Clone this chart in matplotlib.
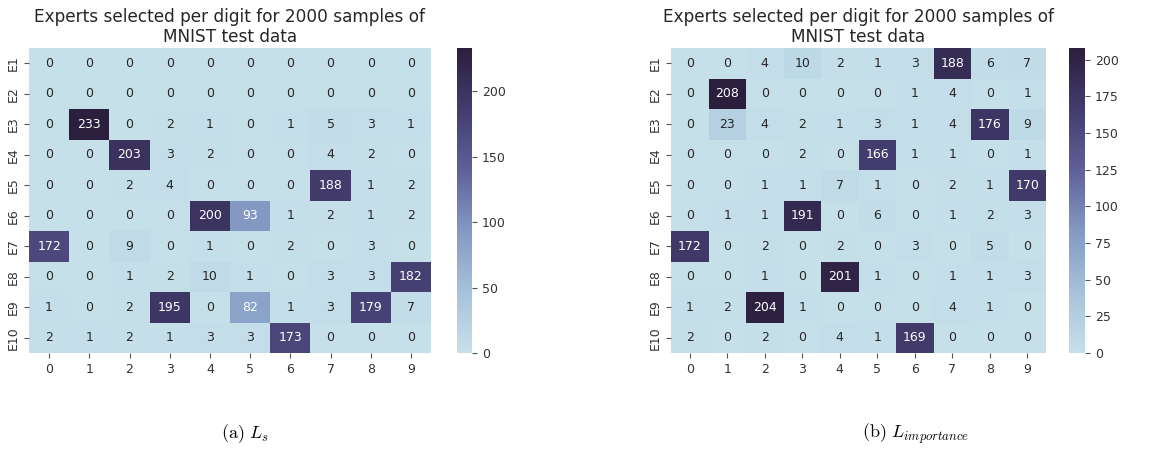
import numpy as np
import seaborn as sns
import matplotlib
matplotlib.use("Agg")
from matplotlib import pyplot as plt
from matplotlib.colors import LinearSegmentedColormap

digits = ["0", "1", "2", "3", "4", "5", "6", "7", "8", "9"]
experts = ["E1", "E2", "E3", "E4", "E5", "E6", "E7", "E8", "E9", "E10"]

# (a) L_s
counts_ls = [
    [0, 0, 0, 0, 0, 0, 0, 0, 0, 0],
    [0, 0, 0, 0, 0, 0, 0, 0, 0, 0],
    [0, 233, 0, 2, 1, 0, 1, 5, 3, 1],
    [0, 0, 203, 3, 2, 0, 0, 4, 2, 0],
    [0, 0, 2, 4, 0, 0, 0, 188, 1, 2],
    [0, 0, 0, 0, 200, 93, 1, 2, 1, 2],
    [172, 0, 9, 0, 1, 0, 2, 0, 3, 0],
    [0, 0, 1, 2, 10, 1, 0, 3, 3, 182],
    [1, 0, 2, 195, 0, 82, 1, 3, 179, 7],
    [2, 1, 2, 1, 3, 3, 173, 0, 0, 0],
]

# (b) L_importance
counts_imp = [
    [0, 0, 4, 10, 2, 1, 3, 188, 6, 7],
    [0, 208, 0, 0, 0, 0, 1, 4, 0, 1],
    [0, 23, 4, 2, 1, 3, 1, 4, 176, 9],
    [0, 0, 0, 2, 0, 166, 1, 1, 0, 1],
    [0, 0, 1, 1, 7, 1, 0, 2, 1, 170],
    [0, 1, 1, 191, 0, 6, 0, 1, 2, 3],
    [172, 0, 2, 0, 2, 0, 3, 0, 5, 0],
    [0, 0, 1, 0, 201, 1, 0, 1, 1, 3],
    [1, 2, 204, 1, 0, 0, 0, 4, 1, 0],
    [2, 0, 2, 0, 4, 1, 169, 0, 0, 0],
]

title = "Experts selected per digit for 2000 samples of\nMNIST test data"

# light blue -> lavender -> dark purple
cmap = LinearSegmentedColormap.from_list(
    "moe", ["#c6e0ea", "#a6c2da", "#8399c3", "#5f6199", "#433c6e", "#2b1f3e"])

plt.rcParams["mathtext.fontset"] = "cm"

fig = plt.figure(figsize=(11.56, 4.5), dpi=100)
W, H = 1156, 450

def px(x0, y0, x1, y1):
    return [x0 / W, 1 - y1 / H, (x1 - x0) / W, (y1 - y0) / H]

ax1 = fig.add_axes(px(29, 48, 431, 353))
cax1 = fig.add_axes(px(457, 48, 472, 353))
ax2 = fig.add_axes(px(671, 48, 1046, 353))
cax2 = fig.add_axes(px(1069, 48, 1085, 353))

for ax, cax, data, ticks in [(ax1, cax1, counts_ls, [0, 50, 100, 150, 200]),
                             (ax2, cax2, counts_imp, [0, 25, 50, 75, 100, 125, 150, 175, 200])]:
    sns.heatmap(np.array(data), annot=True, fmt="d", cmap=cmap, ax=ax, cbar_ax=cax,
                xticklabels=digits, yticklabels=experts,
                annot_kws={"fontsize": 9})
    ax.set_title(title, fontsize=12.2, color="#262626", pad=4)
    ax.tick_params(labelsize=9, colors="#333333")
    ax.tick_params(axis="both", color="#555555")
    plt.setp(ax.get_yticklabels(), rotation=90, va="center")
    cax.set_yticks(ticks)
    cax.tick_params(labelsize=9, colors="#333333")
    cax.tick_params(color="#555555")

fig.text(245 / W, 1 - 434 / H, r"$\mathrm{(a)}\ L_s$", ha="center", va="center", fontsize=13)
fig.text(915 / W, 1 - 434 / H, r"$\mathrm{(b)}\ L_{importance}$", ha="center", va="center", fontsize=13)

fig.savefig("out.png", dpi=100)
